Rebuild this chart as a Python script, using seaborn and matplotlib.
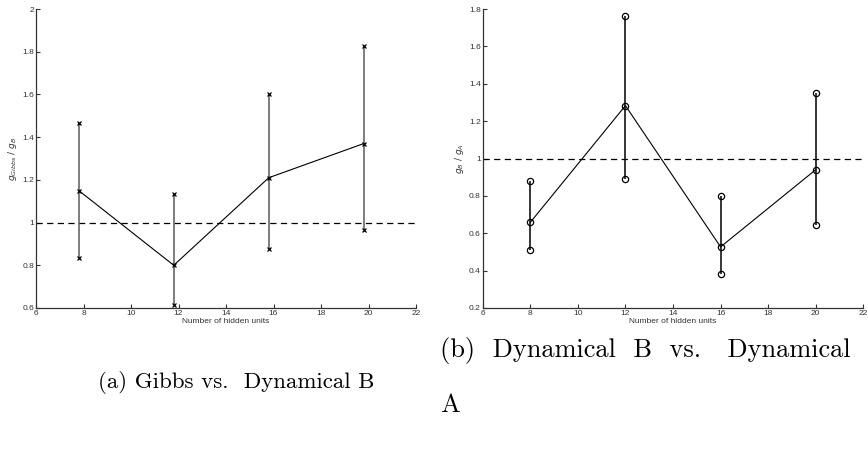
import matplotlib
matplotlib.use("Agg")
import matplotlib.pyplot as plt
import seaborn as sns
import pandas as pd
from matplotlib.ticker import FuncFormatter

# ---- data ----
hidden_a = [7.8, 11.8, 15.8, 19.8]
mean_a = [1.15, 0.80, 1.21, 1.37]
low_a = [0.835, 0.615, 0.875, 0.965]
high_a = [1.465, 1.135, 1.60, 1.825]

hidden_b = [8, 12, 16, 20]
mean_b = [0.658, 1.283, 0.527, 0.940]
low_b = [0.512, 0.891, 0.384, 0.642]
high_b = [0.877, 1.764, 0.799, 1.353]

xticks = [6, 8, 10, 12, 14, 16, 18, 20, 22]
yticks_a = [0.6, 0.8, 1.0, 1.2, 1.4, 1.6, 1.8, 2.0]
yticks_b = [0.2, 0.4, 0.6, 0.8, 1.0, 1.2, 1.4, 1.6, 1.8]

sns.set_style("ticks")
plt.rcParams['font.family'] = ['Liberation Sans', 'DejaVu Sans']

fig = plt.figure(figsize=(8.68, 4.57), dpi=100)
ax_a = fig.add_axes([36/868, 1-308/457, 380/868, 299/457])
ax_b = fig.add_axes([482.7/868, 1-308/457, 380.6/868, 299/457])

fmt = FuncFormatter(lambda v, p: ("%g" % round(v, 2)))

def panel(ax, x, m, lo, hi, marker, ms, ebcolor, ylim, yticks, ylabel):
    df = pd.DataFrame({"x": x, "m": m, "lo": lo, "hi": hi})
    ax.axhline(1.0, color="black", lw=0.9, ls=(0, (5, 3.5)), zorder=1)
    ax.vlines(df["x"], df["lo"], df["hi"], color=ebcolor, lw=1.1, zorder=2)
    sns.lineplot(data=df, x="x", y="m", ax=ax, color="black", lw=0.8,
                 marker=marker, markersize=ms, markeredgecolor="black",
                 markerfacecolor="none", markeredgewidth=0.9, zorder=3)
    for col in ["lo", "hi"]:
        sns.lineplot(data=df, x="x", y=col, ax=ax, lw=0, marker=marker,
                     markersize=ms, markeredgecolor="black",
                     markerfacecolor="none", markeredgewidth=0.9, zorder=3)
    ax.set_xlim(6, 22)
    ax.set_ylim(*ylim)
    ax.set_xticks(xticks)
    ax.set_yticks(yticks)
    ax.yaxis.set_major_formatter(fmt)
    ax.tick_params(direction="in", length=3, width=0.8, labelsize=6,
                   colors="#333333", pad=1.5)
    for s in ["top", "right"]:
        ax.spines[s].set_visible(False)
    for s in ["left", "bottom"]:
        ax.spines[s].set_color("#333333")
        ax.spines[s].set_linewidth(0.9)
    ax.set_xlabel("Number of hidden units", fontsize=6, color="#333333", labelpad=1)
    ax.set_ylabel(ylabel, fontsize=6.5, color="#333333", labelpad=2)

panel(ax_a, hidden_a, mean_a, low_a, high_a, "x", 3.0, "#5a5a5a", (0.6, 2.0),
      yticks_a, r"$g_{Gibbs}\ /\ g_B$")
panel(ax_b, hidden_b, mean_b, low_b, high_b, "o", 4.5, "black", (0.2, 1.8),
      yticks_b, r"$g_B\ /\ g_A$")

cap = dict(fontsize=16.5, family="cmr10", color="black")
cap_b = dict(fontsize=19, family="cmr10", color="black")
fig.text(236/868, 1-383/457, "(a) Gibbs vs.  Dynamical B", ha="center", va="center", **cap)
fig.text(440/868, 1-350/457, "(b)  Dynamical  B  vs.   Dynamical", ha="left", va="center", **cap_b)
fig.text(440/868, 1-405/457, "A", ha="left", va="center", **cap_b)

fig.savefig("out.png", dpi=100)
